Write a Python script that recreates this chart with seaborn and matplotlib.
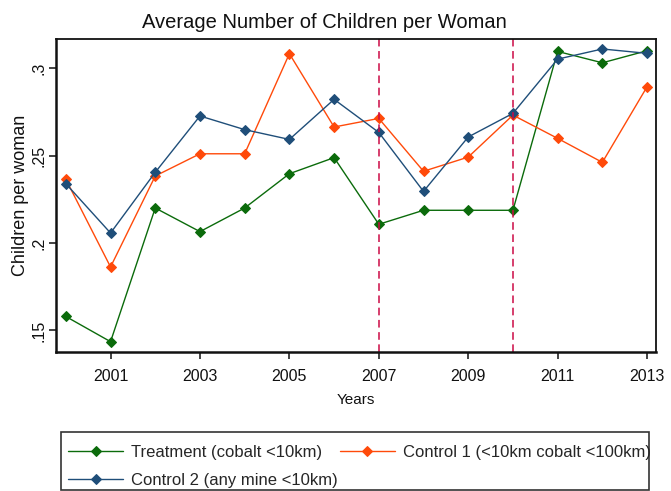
import numpy as np
import pandas as pd
import matplotlib
matplotlib.use("Agg")
import matplotlib.pyplot as plt
from matplotlib.patches import Rectangle
import seaborn as sns

# data
years = list(range(2000, 2014))
treatment = [0.158, 0.1436, 0.220, 0.2065, 0.220, 0.2396, 0.2488,
             0.2107, 0.2187, 0.2187, 0.2187, 0.3095, 0.303, 0.3099]
control1 = [0.2364, 0.1863, 0.2383, 0.251, 0.251, 0.3082, 0.2663,
            0.2712, 0.241, 0.2491, 0.2731, 0.2598, 0.2461, 0.2893]
control2 = [0.2339, 0.2057, 0.2404, 0.2726, 0.2648, 0.2592, 0.2821,
            0.2632, 0.2295, 0.2606, 0.2741, 0.3051, 0.3109, 0.3084]
labels = ["Treatment (cobalt <10km)", "Control 1 (<10km cobalt <100km)",
          "Control 2 (any mine <10km)"]
colors = ["#0b6b0b", "#ff4a0a", "#1f4e79"]
policy_years = [2007, 2010]
xticks = [2001, 2003, 2005, 2007, 2009, 2011, 2013]
yticks = [0.15, 0.2, 0.25, 0.3]
ytick_labels = [".15", ".2", ".25", ".3"]

sns.set_style("white")
plt.rcParams['font.family'] = ['Liberation Sans', 'DejaVu Sans']

W, H = 671, 491
fig = plt.figure(figsize=(W / 100, H / 100), dpi=100)
ax = fig.add_axes([56 / W, 1 - 352 / H, 600 / W, 313 / H])

for vals, lab, col in zip([treatment, control1, control2], labels, colors):
    df = pd.DataFrame({"year": years, "val": vals})
    sns.lineplot(data=df, x="year", y="val", ax=ax, color=col, marker="D",
                 markersize=5, markeredgecolor=col, linewidth=1, label=lab)

for yr in policy_years:
    ax.axvline(yr, color="#cc0a45", linestyle=(0, (5, 3)), linewidth=1.1)

ax.set_xlim(1999.78, 2013.2)
ax.set_ylim(0.1377, 0.3166)
ax.set_xticks(xticks)
ax.set_yticks(yticks)
ax.set_yticklabels(ytick_labels, rotation=90, va="center")
ax.tick_params(axis="both", direction="out", length=5, width=1.2,
               color="#222222", labelsize=11.5, labelcolor="#111111", bottom=True, left=True)
ax.tick_params(axis="x", pad=7.5)
ax.tick_params(axis="y", pad=2)
for s in ax.spines.values():
    s.set_color("#111111")
    s.set_linewidth(1.3)
ax.spines["left"].set_linewidth(1.8)
ax.spines["bottom"].set_linewidth(1.8)

ax.set_xlabel("Years", fontsize=11, color="#111111")
ax.xaxis.set_label_coords(0.5, -(393 - 352) / 313)
ax.set_ylabel("Children per woman", fontsize=13, color="#111111")
ax.yaxis.set_label_coords(-27 / 600, 0.5)

fig.text(324 / W, 1 - 28 / H, "Average Number of Children per Woman",
         ha="center", va="baseline", fontsize=14.5, color="#111111")

h, l = ax.get_legend_handles_labels()
ax.get_legend().remove()
order = [0, 2, 1]
leg = fig.legend([h[i] for i in order], [l[i] for i in order], ncol=2,
                 loc="upper left", bbox_to_anchor=(68 / W, 1 - 445 / H),
                 frameon=False, fontsize=12, handlelength=3.3,
                 columnspacing=0.1, handletextpad=0.5, borderpad=0,
                 labelspacing=0.75, borderaxespad=0)
# the box of the legend, drawn on its own as in the original (text runs past it)
fig.patches.append(Rectangle((61 / W, 1 - 490 / H), (649 - 61) / W, (490 - 432) / H,
                             transform=fig.transFigure, fill=False,
                             edgecolor="#333333", linewidth=1.2))

fig.savefig("out.png", dpi=100)
